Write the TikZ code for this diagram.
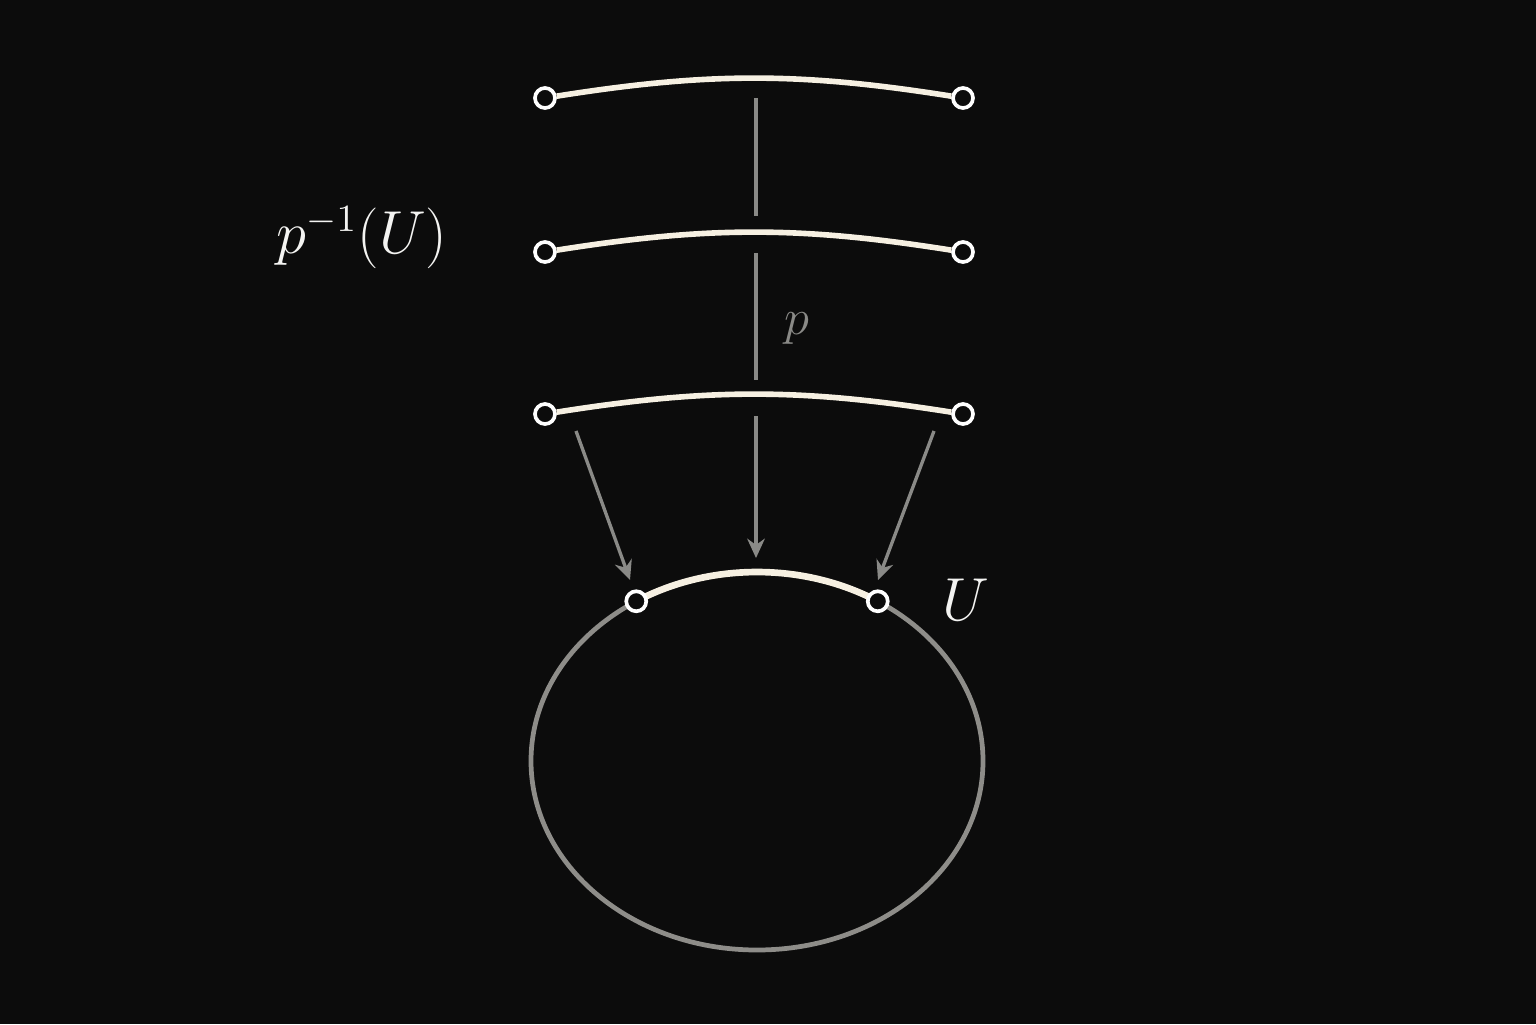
\documentclass[tikz,border=0pt]{standalone}
\usetikzlibrary{arrows.meta,calc}
\definecolor{bg}{HTML}{0C0C0C}
\definecolor{sheet}{HTML}{F6F0E2}
\definecolor{mapgray}{HTML}{8A8A87}
\definecolor{loopgray}{HTML}{8E8D89}
\definecolor{labelwhite}{HTML}{F4F4F2}
\begin{document}
\begin{tikzpicture}[end node/.style={circle,draw=white,fill=bg,line width=1.05pt,minimum size=0.2cm,inner sep=0pt},
  sheet line/.style={draw=sheet,line width=1.6pt},
  map line/.style={draw=mapgray,line width=0.95pt},
  map arrow/.style={map line,-{Stealth[length=5.5pt,width=5pt]}}]
\fill[bg] (0,0) rectangle (15.36,-10.24);
\useasboundingbox (0,0) rectangle (15.36,-10.24);

% the three sheets over U
\foreach \i/\y in {1/0.98,2/2.52,3/4.14}{
  \node [end node](l\i) at (5.45,-\y) {};
  \node [end node](r\i) at (9.63,-\y) {};
  \draw [sheet line] (l\i) to[bend left=9] (r\i);
}

% the base circle and U
\coordinate (c) at (7.57,-7.61);
\draw [draw=loopgray,line width=1.35pt] (c) ellipse [x radius=2.26, y radius=1.89];
\coordinate (ur0) at ($(c)+(57.7:2.26 and 1.89)$);
\draw [sheet line,line width=1.9pt] (ur0) arc [start angle=57.7, end angle=122.3, x radius=2.26, y radius=1.89];
\node [end node](ul) at ($(c)+(122.3:2.26 and 1.89)$) {};
\node [end node](ur) at (ur0) {};

% the projection p
\coordinate (m1) at (7.56,-0.98);
\coordinate (t2) at (7.56,-2.16);
\coordinate (m2) at (7.56,-2.53);
\coordinate (t3) at (7.56,-3.80);
\coordinate (m3) at (7.56,-4.16);
\coordinate (tu) at (7.56,-5.58);
\coordinate (a1) at (5.76,-4.31);
\coordinate (b1) at (6.30,-5.80);
\coordinate (a2) at (9.34,-4.31);
\coordinate (b2) at (8.78,-5.80);
\draw [map line] (m1) -- (t2);
\draw [map line] (m2) -- node[right=0.15cm,yshift=-0.12cm,text=mapgray,font=\fontsize{15}{18}\selectfont]{$p$} (t3);
\draw [map arrow] (m3) -- (tu);
\draw [map arrow] (a1) -- (b1);
\draw [map arrow] (a2) -- (b2);

\begin{scope}[every node/.style={text=labelwhite,font=\fontsize{16.3}{20}\selectfont}]
\node (pre) at (3.62,-2.38) {$p^{-1}(U)$};
\node (base) at (9.66,-6.00) {$U$};
\end{scope}
\end{tikzpicture}
\end{document}
